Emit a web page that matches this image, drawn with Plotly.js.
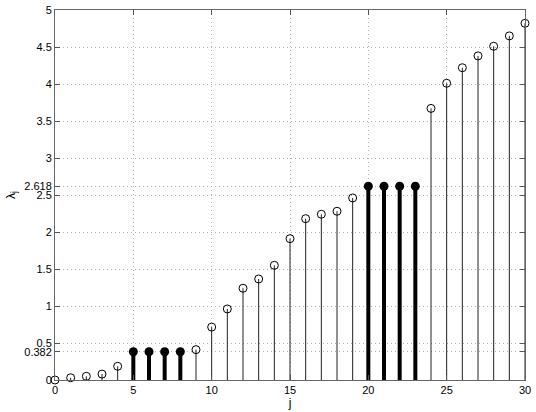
<!DOCTYPE html>
<html>
<head>
<meta charset="utf-8">
<script src="https://cdn.plot.ly/plotly-3.0.1.min.js"></script>
<style>
  html, body { margin: 0; padding: 0; background: #fff; }
  #plot { width: 536px; height: 412px; }
</style>
</head>
<body>
<div id="plot"></div>
<script>
// eigenvalues, open circles
let jOpen = [0, 1, 2, 3, 4, 9, 10, 11, 12, 13, 14, 15, 16, 17, 18, 19, 24, 25, 26, 27, 28, 29, 30];
let lamOpen = [0, 0.03, 0.05, 0.08, 0.185, 0.41, 0.715, 0.96, 1.24, 1.365, 1.55, 1.91, 2.18, 2.24, 2.28, 2.46, 3.67, 4.01, 4.22, 4.38, 4.51, 4.65, 4.82];

// repeated eigenvalues, filled
let jFilled = [5, 6, 7, 8, 20, 21, 22, 23];
let lamFilled = [0.382, 0.382, 0.382, 0.382, 2.618, 2.618, 2.618, 2.618];

let xTicks = [0, 5, 10, 15, 20, 25, 30];
let yTicks = [0, 0.382, 0.5, 1, 1.5, 2, 2.5, 2.618, 3, 3.5, 4, 4.5, 5];
let yTickText = ["0", "0.382", "0.5", "1", "1.5", "2", "2.5", "2.618", "3", "3.5", "4", "4.5", "5"];

// stems drawn as one-sided error bars down to zero
let trace1 = {
  x: jOpen,
  y: lamOpen,
  type: "scatter",
  mode: "markers",
  cliponaxis: false,
  marker: { symbol: "circle-open", size: 8, color: "#000", line: { width: 1 } },
  error_y: {
    type: "data", symmetric: false,
    array: lamOpen.map(() => 0),
    arrayminus: lamOpen,
    thickness: 1, width: 0, color: "#222"
  },
  hoverinfo: "x+y"
};

let trace2 = {
  x: jFilled,
  y: lamFilled,
  type: "scatter",
  mode: "markers",
  cliponaxis: false,
  marker: { symbol: "circle", size: 9, color: "#000" },
  error_y: {
    type: "data", symmetric: false,
    array: lamFilled.map(() => 0),
    arrayminus: lamFilled,
    thickness: 4, width: 0, color: "#000"
  },
  hoverinfo: "x+y"
};

let traceData = [trace1, trace2];

let axisStyle = {
  showline: true,
  linecolor: "#666",
  linewidth: 1,
  mirror: "ticks",
  ticks: "inside",
  ticklen: 5,
  tickcolor: "#555",
  showgrid: true,
  gridcolor: "#b0b0b0",
  griddash: "1px,3px",
  gridwidth: 1,
  zeroline: false,
  tickfont: { family: "Liberation Sans, Arial, sans-serif", size: 11, color: "#000" }
};

let layout = {
  width: 536,
  height: 412,
  margin: { l: 55, r: 11, t: 10, b: 32 },
  paper_bgcolor: "#fff",
  plot_bgcolor: "#fff",
  showlegend: false,
  xaxis: Object.assign({}, axisStyle, {
    range: [0, 30],
    tickmode: "array",
    tickvals: xTicks,
    ticktext: xTicks.map(String),
    title: { text: "j", standoff: 0, font: { family: "Liberation Sans, Arial, sans-serif", size: 12, color: "#000" } }
  }),
  yaxis: Object.assign({}, axisStyle, {
    range: [0, 5],
    tickmode: "array",
    tickvals: yTicks,
    ticktext: yTickText,
    title: { text: "λ<sub>j</sub>", standoff: 6, font: { family: "Liberation Sans, Arial, sans-serif", size: 12, color: "#000" } }
  })
};

Plotly.newPlot("plot", traceData, layout, { staticPlot: true });
</script>
</body>
</html>
